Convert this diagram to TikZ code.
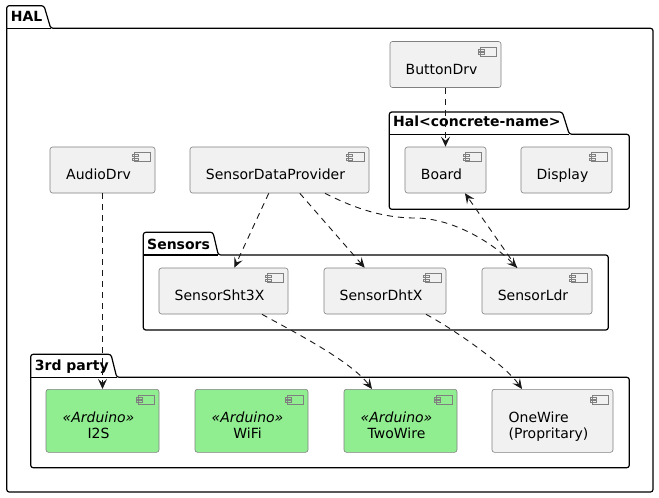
\documentclass[tikz,border=0pt]{standalone}
\usepackage{fontspec}
\setmainfont{DejaVu Sans}
\usetikzlibrary{arrows.meta}
\definecolor{compgray}{HTML}{F1F1F1}
\definecolor{ardgreen}{HTML}{90EE90}
\definecolor{linegray}{HTML}{181818}
% text of a component: a bit lower and left of the box centre
\newcommand{\comptext}[2][c]{\raisebox{-6.5pt}[\height][\depth]{\begin{tabular}{@{}#1@{}}#2\end{tabular}}\kern8pt}
\begin{document}
\begin{tikzpicture}[x=1pt,y=-1pt,
    comp/.style={draw=black!50, line width=0.6pt, fill=#1, rounded corners=2.5pt, inner sep=0pt,
      minimum height=46pt, font=\fontsize{14pt}{16pt}\selectfont,
      path picture={
        \draw[black!50, line width=0.5pt, fill=#1, sharp corners]
          ([shift={(-20.5pt,-5.5pt)}]path picture bounding box.north east) rectangle +(16pt,-9pt)
          ([shift={(-23pt,-7.5pt)}]path picture bounding box.north east) rectangle +(6pt,-2.2pt)
          ([shift={(-23pt,-11pt)}]path picture bounding box.north east) rectangle +(6pt,-2.2pt);}},
    comp/.default=compgray,
    pkg/.style={draw=black, line width=1.2pt, fill=white, rounded corners=2.5pt},
    pkglabel/.style={anchor=base west, inner sep=0pt, font=\fontsize{14pt}{16pt}\selectfont\bfseries},
    dep/.style={draw=linegray, line width=0.9pt, dash pattern=on 6pt off 5pt,
      -{Stealth[length=10pt,width=9pt,inset=4pt]}}]
  \useasboundingbox (0,0) rectangle (659,498);

  % packages
  \draw[pkg] (6.7,492) -- (6.7,5.7) -- (44,5.7) -- (50.7,28.3) -- (653,28.3) -- (653,492) -- cycle;
  \draw[pkg, sharp corners] (6.7,28.3) -- (50.7,28.3);
  \node[pkglabel] (halname) at (10.7,21) {HAL};

  \draw[pkg] (389.3,209.3) -- (389.3,112) -- (562.3,112) -- (569.3,134.3) -- (629.3,134.3) -- (629.3,209.3) -- cycle;
  \draw[pkg, sharp corners] (389.3,134.3) -- (569.3,134.3);
  \node[pkglabel] (concname) at (393,126.7) {Hal<concrete-name>};

  \draw[pkg] (143.3,330) -- (143.3,232.3) -- (213,232.3) -- (218.3,255) -- (608.3,255) -- (608.3,330) -- cycle;
  \draw[pkg, sharp corners] (143.3,255) -- (218.3,255);
  \node[pkglabel] (sensorsname) at (147,249) {Sensors};

  \draw[pkg] (30.7,467.7) -- (30.7,354.3) -- (111,354.3) -- (116.7,377.3) -- (629.3,377.3) -- (629.3,467.7) -- cycle;
  \draw[pkg, sharp corners] (30.7,377.3) -- (116.7,377.3);
  \node[pkglabel] (thirdname) at (34.7,370) {3rd party};

  % components
  \node[comp, minimum width=111pt] (button) at (445.5,64.5) {\comptext{ButtonDrv}};
  \node[comp, minimum width=81pt] (board) at (445.5,170) {\comptext{Board}};
  \node[comp, minimum width=91pt] (display) at (566.5,170) {\comptext{Display}};
  \node[comp, minimum width=105pt] (audio) at (102.5,170) {\comptext{AudioDrv}};
  \node[comp, minimum width=179pt] (sdp) at (279.5,170) {\comptext{SensorDataProvider}};
  \node[comp, minimum width=129pt] (sht) at (223.5,291) {\comptext{SensorSht3X}};
  \node[comp, minimum width=122pt] (dht) at (385,291) {\comptext{SensorDhtX}};
  \node[comp, minimum width=110pt] (ldr) at (537,291) {\comptext{SensorLdr}};
  \node[comp=ardgreen, minimum width=113pt, minimum height=63pt] (i2s) at (102.5,420.8) {\comptext{\textit{«Arduino»}\\I2S}};
  \node[comp=ardgreen, minimum width=113pt, minimum height=63pt] (wifi) at (251.5,420.8) {\comptext{\textit{«Arduino»}\\WiFi}};
  \node[comp=ardgreen, minimum width=113pt, minimum height=63pt] (twowire) at (400.5,420.8) {\comptext{\textit{«Arduino»}\\TwoWire}};
  \node[comp, minimum width=121pt, minimum height=63pt] (onewire) at (552.5,420.8) {\comptext[l]{OneWire\\(Propritary)}};

  % dependencies
  \draw[dep] (button) -- (board);
  \draw[dep] (audio) -- (i2s);
  \draw[dep] (sdp) -- (sht);
  \draw[dep] (sdp) -- (dht);
  \draw[dep] ([xshift=45.5pt]sdp.south) .. controls (350,206) and (380,218) .. (415,218)
    .. controls (450,218) and (490,240) .. ([xshift=-20pt]ldr.north);
  \draw[dep] ([xshift=-20pt]ldr.north) -- ([xshift=19.5pt]board.south);
  \draw[dep] ([xshift=38.5pt]sht.south) .. controls (290,330) and (350,360) .. ([xshift=-28.5pt]twowire.north);
  \draw[dep] ([xshift=41pt]dht.south) .. controls (455,330) and (505,365) .. ([xshift=-30.5pt]onewire.north);
\end{tikzpicture}
\end{document}
